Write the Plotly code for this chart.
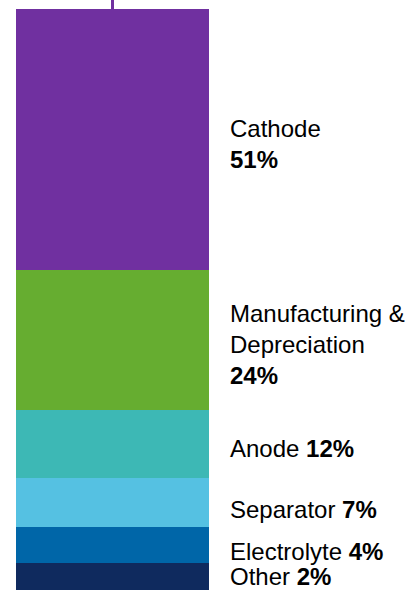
import numpy as np
import plotly.graph_objects as go

# Data (top to bottom as shown)
categories = ["Cathode", "Manufacturing &<br>Depreciation", "Anode", "Separator", "Electrolyte", "Other"]
shares_pct = [51, 24, 12, 7, 4, 2]
# segment extents as drawn in the picture (relative units)
segment_values = [261, 140, 68, 49, 36, 27]
colors = ["#7030A0", "#66AD30", "#3DB8B5", "#55C1E2", "#0066A8", "#0F2A5E"]
label_two_line = [True, True, False, False, False, False]

fig = go.Figure()

# stack bottom to top
order = list(range(len(categories)))[::-1]
for i in order:
    fig.add_trace(go.Bar(
        x=[0], y=[segment_values[i]], width=[1],
        marker=dict(color=colors[i], line=dict(width=0)),
        name=categories[i], showlegend=False, hoverinfo="skip",
    ))

vals_bottom_up = np.array([segment_values[i] for i in order], dtype=float)
tops = np.cumsum(vals_bottom_up)
bottoms = tops - vals_bottom_up
centers_bu = (tops + bottoms) / 2
centers = {order[k]: centers_bu[k] for k in range(len(order))}
total = float(vals_bottom_up.sum())

yshifts = [-4, -4, -4, -7, -6, 0]
for i, cat in enumerate(categories):
    if label_two_line[i]:
        txt = f"{cat}<br><b>{shares_pct[i]}%</b>"
    else:
        txt = f"{cat} <b>{shares_pct[i]}%</b>"
    fig.add_annotation(
        x=0.5, y=centers[i], xref="x", yref="y",
        text=txt, showarrow=False, xanchor="left", yanchor="middle",
        align="left", xshift=19, yshift=yshifts[i],
        font=dict(family="Arial, Liberation Sans, sans-serif", size=24, color="#000000"),
    )

# small stem at top of bar
fig.add_shape(type="line", xref="x", yref="paper", x0=0, x1=0, y0=1, y1=1 + 10 / 581,
              line=dict(color="#7030A0", width=3), layer="above")

fig.update_layout(
    width=413, height=590,
    margin=dict(l=16, r=204, t=9, b=0, pad=0),
    barmode="stack", bargap=0,
    plot_bgcolor="white", paper_bgcolor="white",
    xaxis=dict(range=[-0.5, 0.5], visible=False, fixedrange=True),
    yaxis=dict(range=[0, total], visible=False, fixedrange=True),
)

fig.write_html(
    "out.html",
    config={"displayModeBar": False},
    post_script="document.body.style.margin='0';document.body.style.overflow='hidden';",
)
